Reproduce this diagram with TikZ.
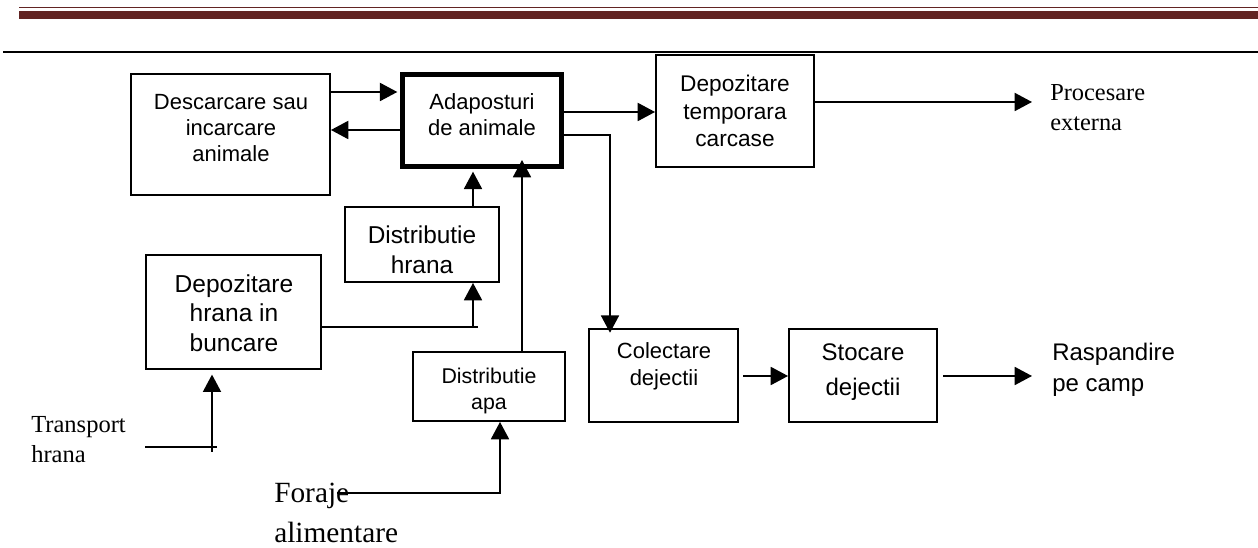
\documentclass[tikz,border=0pt]{standalone}
\usepackage{fontspec}
\setmainfont{Liberation Serif}
\setsansfont{Liberation Sans}
\usetikzlibrary{arrows.meta}
\definecolor{hdrmaroon}{HTML}{622423}
\begin{document}
\begin{tikzpicture}[x=0.75pt,y=-0.75pt,
  box/.style={draw, line width=1.4pt, inner sep=0pt},
  thickbox/.style={draw, line width=4pt, inner sep=0pt},
  lbl/.style={align=center, inner sep=0pt},
  sidelbl/.style={anchor=west, align=left, inner sep=0pt},
  conn/.style={line width=1.4pt},
  arr/.style={conn, -{Triangle[length=13pt,width=13.5pt]}},
]
\useasboundingbox (0,0) rectangle (1258,548);
% header lines
\fill[hdrmaroon] (19,6.7) rectangle (1258,8.4);
\fill[hdrmaroon] (19,11) rectangle (1258,19);
\fill[black] (3,50.8) rectangle (1258,53.3);

% boxes
\node[box, minimum width=199*0.75pt, minimum height=121*0.75pt] (desc) at (230.5,134.5) {};
\node[thickbox, minimum width=158.7*0.75pt, minimum height=91.7*0.75pt] (adap) at (482,120.5) {};
\node[box, minimum width=158*0.75pt, minimum height=112*0.75pt] (temp) at (735,111) {};
\node[box, minimum width=154*0.75pt, minimum height=75*0.75pt] (hrana) at (422,244.5) {};
\node[box, minimum width=175*0.75pt, minimum height=114*0.75pt] (bunc) at (233.5,312) {};
\node[box, minimum width=152*0.75pt, minimum height=69*0.75pt] (apa) at (489,386.5) {};
\node[box, minimum width=149*0.75pt, minimum height=93*0.75pt] (col) at (663.5,375.5) {};
\node[box, minimum width=148*0.75pt, minimum height=93*0.75pt] (stoc) at (863,375.5) {};

% box texts
\node[lbl, font=\sffamily\fontsize{16.5}{19.5}\selectfont] (descT) at (231,128) {Descarcare sau\\incarcare\\animale};
\node[lbl, font=\sffamily\fontsize{16.5}{19.5}\selectfont] (adapT) at (482,115) {Adaposturi\\de animale};
\node[lbl, font=\sffamily\fontsize{17}{20.5}\selectfont] (tempT) at (735,111) {Depozitare\\temporara\\carcase};
\node[lbl, font=\sffamily\fontsize{18.3}{22.5}\selectfont] (hranaT) at (422,250) {Distributie\\hrana};
\node[lbl, font=\sffamily\fontsize{18.4}{22}\selectfont] (buncT) at (234,313) {Depozitare\\hrana in\\buncare};
\node[lbl, font=\sffamily\fontsize{16}{20}\selectfont] (apaT) at (489,391) {Distributie\\apa};
\node[lbl, font=\sffamily\fontsize{16.5}{20}\selectfont] (colT) at (664,366) {Colectare\\dejectii};
\node[lbl, font=\sffamily\fontsize{18}{26}\selectfont] (stocT) at (863,372) {Stocare\\dejectii};

% free labels
\node[sidelbl, font=\fontsize{18.3}{22.5}\selectfont] (proc) at (1050,108) {Procesare\\externa};
\node[sidelbl, font=\sffamily\fontsize{18}{23}\selectfont] (rasp) at (1052,370) {Raspandire\\pe camp};
\node[sidelbl, font=\fontsize{18.4}{22.5}\selectfont] (transp) at (31,440) {Transport\\hrana};
\node[sidelbl, font=\fontsize{22}{30}\selectfont] (foraje) at (274,513) {Foraje\\alimentare};

% helper coordinates
\coordinate (ya) at (0,92);
\coordinate (yb) at (0,130);
\coordinate (yc) at (0,112);
\coordinate (yd) at (0,135);
\coordinate (bendD) at (610,135);
\coordinate (procEnd) at (1032,102);
\coordinate (colOut) at (743,376);
\coordinate (stocOut) at (943,376);
\coordinate (raspEnd) at (1032,376);
\coordinate (xh) at (473,0);
\coordinate (buncEnd) at (478,327);
\coordinate (yi) at (0,327);
\coordinate (xj) at (522,0);
\coordinate (apaTip) at (522,160);
\coordinate (tA) at (145,447);
\coordinate (tB) at (217,447);
\coordinate (tC) at (212,452);
\coordinate (fA) at (337,493);
\coordinate (fB) at (500,493);

% connectors
\draw[arr, shorten >=2pt] (desc.east |- ya) -- (adap.west |- ya);
\draw[arr] (adap.west |- yb) -- (desc.east |- yb);
\draw[arr] (adap.east |- yc) -- (temp.west |- yc);
\draw[arr, shorten >=-3.5pt] (adap.east |- yd) -- (bendD) -- (col.north -| bendD);
\draw[arr] (temp.east |- procEnd) -- (procEnd);
\draw[arr] (colOut) -- (stoc.west |- colOut);
\draw[arr] (stocOut) -- (raspEnd);
\draw[arr, shorten >=2pt] (hrana.north -| xh) -- (adap.south -| xh);
\draw[conn] (bunc.east |- yi) -- (buncEnd);
\draw[arr] (xh |- yi) -- (hrana.south -| xh);
\draw[arr] (apa.north -| xj) -- (apaTip);
\draw[conn] (tA) -- (tB);
\draw[arr, shorten >=3.5pt] (tC) -- (bunc.south -| tC);
\draw[arr] (fA) -- (fB) -- (apa.south -| fB);
\end{tikzpicture}
\end{document}
